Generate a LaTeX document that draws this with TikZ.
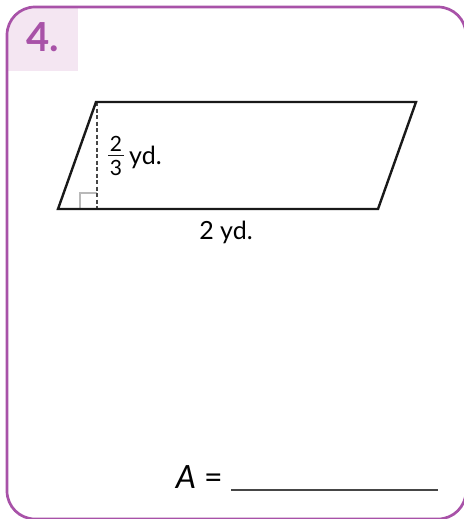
\documentclass[tikz,border=0pt]{standalone}
\usepackage{fontspec}
\setmainfont{Lato}
\usetikzlibrary{positioning}
\definecolor{framepurple}{RGB}{168,82,168}
\definecolor{labelpink}{RGB}{244,230,242}
\definecolor{anglegray}{RGB}{185,185,185}
\definecolor{inkgray}{RGB}{70,70,70}
\tikzset{
  shapeline/.style={line width=2.4pt, black!90, line join=miter},
  heightline/.style={line width=1.3pt, inkgray, dash pattern=on 4pt off 2.5pt},
  labeltext/.style={font=\fontsize{25}{28}\selectfont, inner sep=0pt},
  fractext/.style={font=\fontsize{21}{24}\selectfont, inner sep=0pt},
}

\begin{document}
\begin{tikzpicture}[x=1pt,y=-1pt]
\useasboundingbox (0,0) rectangle (463,519);
% card frame and number tab
\begin{scope}
\clip[rounded corners=28pt] (7,7) rectangle (466,519);
\fill[labelpink] (7,7) rectangle (78,71);
\end{scope}
\draw[framepurple, line width=2.7pt, rounded corners=28pt] (7,7) rectangle (466,519);
\node[font=\fontsize{40}{44}\selectfont\bfseries, text=framepurple, inner sep=0pt, anchor=base west] (num) at (26,52) {4.};
% parallelogram
\coordinate (bl) at (58,209);
\coordinate (br) at (378,209);
\coordinate (tr) at (416,102);
\coordinate (tl) at (96,102);
\coordinate (foot) at (97,209);
\draw[anglegray, line width=1.5pt] (foot) ++(-17,0) -- ++(0,-16) -- ++(17,0);
\draw[heightline] (tl -| foot) -- (foot);
\draw[shapeline] (bl) -- (br) -- (tr) -- (tl) -- cycle;
% height label
\node[fractext, anchor=base] (fracnum) at (116,151) {2};
\node[fractext, anchor=base] (fracden) at (116,175) {3};
\coordinate (barl) at (108,155.5);
\coordinate (barr) at (124,155.5);
\draw[line width=1.4pt, black!90] (barl) -- (barr);
\node[labeltext, anchor=base west] (height) at (129,164) {yd.};
% base label
\node[labeltext, anchor=base] (base) at (226,239) {2 yd.};
% area answer line
\node[font=\fontsize{32}{36}\selectfont, inner sep=0pt, anchor=base east] (area) at (223,488) {\textit{A} =};
\coordinate (blankstart) at (231,490);
\coordinate (blankend) at (438,490);
\draw[inkgray, line width=1.8pt] (blankstart) -- (blankend);
\end{tikzpicture}
\end{document}
